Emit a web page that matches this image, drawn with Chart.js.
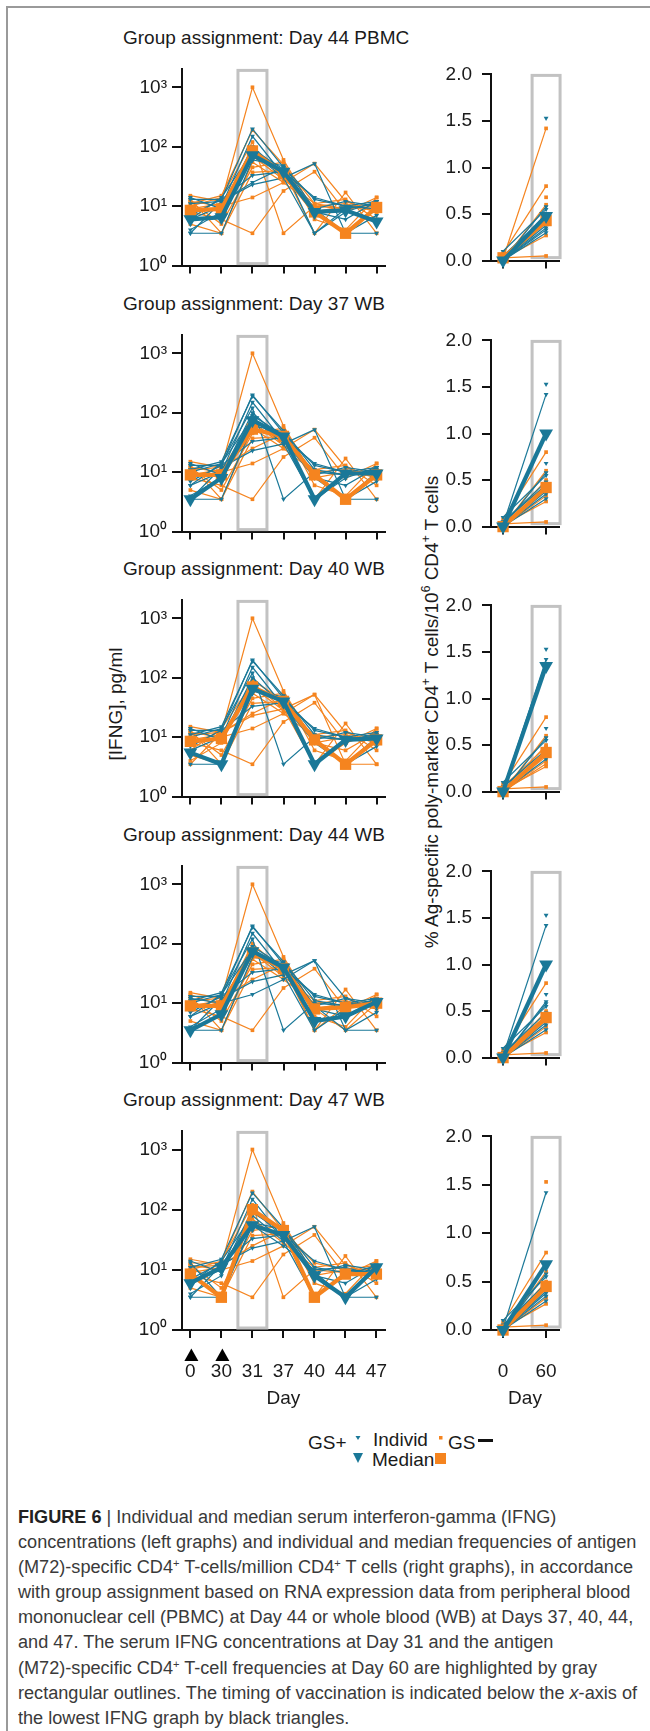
<!DOCTYPE html>
<html>
<head>
<meta charset="utf-8">
<script src="https://cdn.jsdelivr.net/npm/chart.js@4.4.1/dist/chart.umd.min.js"></script>
<style>
  body { margin: 0; width: 650px; height: 1731px; position: relative; overflow: hidden; background: #fff;
         font-family: "Liberation Sans", Arial, sans-serif; color: #1a1a1a; }
  canvas { position: absolute; }
  .txt { position: absolute; font-size: 19px; line-height: 22px; white-space: nowrap; }
  .rot { position: absolute; font-size: 19px; white-space: nowrap; transform: translate(-50%, -50%) rotate(-90deg); }
  .rot sup { font-size: 12px; }
  .frame { position: absolute; background: #9a9a9a; }
  #caption { position: absolute; left: 18px; top: 1505px; font-size: 18px; line-height: 25.1px; color: #3a3a3a; }
  #caption div { white-space: nowrap; transform-origin: 0 50%; }
  #caption sup { font-size: 11px; vertical-align: 6px; line-height: 0; }
  #caption b { color: #222; }
</style>
</head>
<body>
<div class="frame" style="left:6px;top:6px;width:644px;height:1.5px"></div>
<div class="frame" style="left:6px;top:6px;width:1.5px;height:1725px"></div>

<div class="rot" style="left:116px;top:704px">[IFNG], pg/ml</div>
<div class="rot" style="left:431px;top:712px">% Ag-specific poly-marker CD4<sup>+</sup> T cells/10<sup>6</sup> CD4<sup>+</sup> T cells</div>

<!-- legend -->
<div class="txt" style="left:308px;top:1432px">GS+</div>
<div class="txt" style="left:373px;top:1429px">Individ</div>
<div class="txt" style="left:372px;top:1449px">Median</div>
<div class="txt" style="left:448px;top:1432px">GS</div>
<div class="frame" style="left:478px;top:1439px;width:15px;height:3px;background:#111"></div>
<svg style="position:absolute;left:0;top:1420px" width="650" height="60">
  <polygon points="355.5,16 360.5,16 358,20" fill="#1a7898"/>
  <polygon points="353,33 363,33 358,43" fill="#1a7898"/>
  <rect x="439" y="16" width="3.5" height="3.5" fill="#f5841f"/>
  <rect x="435" y="33" width="11" height="11" fill="#f5841f"/>
</svg>

<div id="caption">
  <div><b>FIGURE 6</b> | Individual and median serum interferon-gamma (IFNG)</div>
  <div id="refLine">concentrations (left graphs) and individual and median frequencies of antigen</div>
  <div>(M72)-specific CD4<sup>+</sup> T-cells/million CD4<sup>+</sup> T cells (right graphs), in accordance</div>
  <div>with group assignment based on RNA expression data from peripheral blood</div>
  <div>mononuclear cell (PBMC) at Day 44 or whole blood (WB) at Days 37, 40, 44,</div>
  <div>and 47. The serum IFNG concentrations at Day 31 and the antigen</div>
  <div>(M72)-specific CD4<sup>+</sup> T-cell frequencies at Day 60 are highlighted by gray</div>
  <div>rectangular outlines. The timing of vaccination is indicated below the <i>x</i>-axis of</div>
  <div>the lowest IFNG graph by black triangles.</div>
</div>

<script>
// categories and tick labels
const days = ['0', '30', '31', '37', '40', '44', '47'];
const freqDays = ['0', '60'];
const vaccinationDays = ['0', '30'];
const highlightDay = '31';
const highlightFreqDay = '60';
const groupTitles = ['Day 44 PBMC', 'Day 37 WB', 'Day 40 WB', 'Day 44 WB', 'Day 47 WB'];
const logTicks = [1, 10, 100, 1000];
const logTickLabels = ['10⁰', '10¹', '10²', '10³'];
const freqTicks = [0, 0.5, 1, 1.5, 2];

// individual IFNG, pg/ml (days 0..47)
const ifngIndivid = [
  [15, 12, 1000, 60, 8, 10, 9],
  [13, 13, 200, 45, 13, 10, 12],
  [11, 15, 190, 50, 11, 9, 10],
  [8, 6, 3.5, 18, 38, 8, 14],
  [12, 10, 14, 25, 52, 12, 8],
  [3.5, 12, 23, 30, 52, 3.5, 3.5],
  [10, 14, 120, 3.5, 10, 9, 11],
  [5, 3.5, 37, 40, 3.5, 17, 3.5],
  [14, 9, 100, 35, 8, 3.5, 10],
  [6, 14, 80, 30, 3.5, 8, 12],
  [3.5, 3.5, 60, 48, 9, 12, 10],
  [9, 11, 70, 28, 11, 13, 6],
  [12, 5, 45, 55, 6, 4, 14],
  [7, 13, 33, 38, 14, 10, 9],
  [4, 8, 90, 42, 8, 6, 12],
  [13, 3.5, 55, 25, 10, 11, 8],
  [6, 10, 150, 33, 9, 3.5, 7],
  [11, 12, 25, 45, 3.5, 9, 11]
];
// individual % Ag-specific CD4+ (day 0, day 60)
const freqIndivid = [
  [0.08, 0.80], [null, 1.53], [0.02, 1.42], [0.03, 0.05], [0.0, 0.60], [0.0, 0.30],
  [null, 0.68], [0.0, 0.50], [0.05, 0.45], [0.0, 0.38], [0.1, 0.55], [0.0, 0.42],
  [0.02, 0.27], [0.0, 0.35], [0.05, 0.48], [0.0, 0.40], [0.0, 0.58], [0.0, 0.33]
];
// GS+ (+) / GS- (-) per individual, one string per group assignment
const gsGroups = [
  '-+---+--+++--++-++',
  '-++--++-+++--++-+-',
  '-++---+-+-+--+--+-',
  '-++-+++--++--++-+-',
  '--+--+--+++--++++-'
];
// medians
const ifngMedianPos = [
  [6, 6.5, 72, 38, 8, 8.5, 5.5],
  [3.5, 8, 75, 40, 3.5, 9.5, 9.5],
  [5.5, 3.5, 65, 40, 3.5, 9, 9.5],
  [3.5, 6.5, 75, 40, 5, 6, 10.5],
  [6, 11, 55, 38, 8, 3.5, 11]
];
const ifngMedianNeg = [
  [8.5, 9, 85, 35, 8, 3.5, 9.5],
  [9, 9, 53, 40, 9, 3.5, 9],
  [8.5, 9.5, 70, 40, 9, 3.5, 9],
  [9, 9, 70, 38, 8, 8.5, 10],
  [8.5, 3.5, 100, 45, 3.5, 8.5, 8.5]
];
const freqMedianPos = [[0, 0.48], [0, 1.0], [0, 1.35], [0, 1.0], [0, 0.68]];
const freqMedianNeg = [[0.03, 0.43], [0, 0.42], [0, 0.42], [0, 0.43], [0, 0.45]];

const BLUE = '#1a7898';
const ORANGE = '#f5841f';
const AX = '#111';
const TXT = '#1a1a1a';
const FONT = { family: '"Liberation Sans", Arial, sans-serif', size: 19 };

// gray outline round the highlighted day
const highlightBox = {
  id: 'highlightBox',
  beforeDatasetsDraw(chart, args, o) {
    const { ctx, chartArea, scales } = chart;
    const x0 = scales.x.getPixelForValue(o.center - o.half);
    const x1 = scales.x.getPixelForValue(o.center + o.half);
    ctx.save();
    ctx.strokeStyle = '#c2c2c2';
    ctx.lineWidth = 3;
    ctx.strokeRect(x0, chartArea.top + 1, x1 - x0, chartArea.bottom - chartArea.top - o.gap);
    ctx.restore();
  }
};

// black triangles = vaccination (only under the lowest IFNG graph)
const vaccMarks = {
  id: 'vaccMarks',
  afterDraw(chart, args, o) {
    if (!o.show) return;
    const ctx = chart.ctx, y = chart.chartArea.bottom + 25;
    ctx.save();
    ctx.fillStyle = '#000';
    vaccinationDays.forEach(d => {
      const px = chart.scales.x.getPixelForValue(days.indexOf(d)) + 1;
      ctx.beginPath();
      ctx.moveTo(px, y - 6.5);
      ctx.lineTo(px + 7, y + 6);
      ctx.lineTo(px - 7, y + 6);
      ctx.closePath();
      ctx.fill();
    });
    ctx.restore();
  }
};

function lineSet(values, pos, median) {
  const c = pos ? BLUE : ORANGE;
  return {
    data: values.map((v, i) => ({ x: i, y: v })),
    borderColor: c,
    backgroundColor: c,
    borderWidth: median ? 4.2 : 1.2,
    pointStyle: pos ? 'triangle' : 'rect',
    pointRotation: pos ? 180 : 0,
    pointRadius: median ? 8 : (pos ? 2.8 : 2.6),
    pointBorderWidth: 0,
    spanGaps: false,
    clip: false,
    order: median ? (pos ? 0 : 1) : (pos ? 2 : 3)
  };
}

function xScale(labels, min, max, last) {
  return {
    type: 'linear', min: min, max: max,
    afterBuildTicks: s => { s.ticks = labels.map((d, i) => ({ value: i })); },
    afterFit: s => { s.height = last ? 80 : 14; },
    ticks: { autoSkip: false, maxRotation: 0, padding: 22, color: TXT, font: FONT,
             callback: v => last ? labels[v] : '' },
    grid: { drawOnChartArea: false, tickLength: 8, color: AX, lineWidth: 2 },
    border: { color: AX, width: 2 },
    title: { display: last, text: 'Day', color: TXT, font: FONT, padding: 0 }
  };
}

function makeChart(left, top, w, h, datasets, scales, padRight, boxOpts, showVacc) {
  const cv = document.createElement('canvas');
  cv.width = w; cv.height = h;
  cv.style.left = left + 'px'; cv.style.top = top + 'px';
  cv.style.width = w + 'px'; cv.style.height = h + 'px';
  document.body.appendChild(cv);
  new Chart(cv.getContext('2d'), {
    type: 'line',
    data: { datasets: datasets },
    options: {
      responsive: false, animation: false, devicePixelRatio: 1, events: [],
      layout: { padding: { top: 12, right: padRight, left: 0, bottom: 0 } },
      plugins: { legend: { display: false }, tooltip: { enabled: false },
                 highlightBox: boxOpts, vaccMarks: { show: showVacc } },
      scales: scales
    },
    plugins: [highlightBox, vaccMarks]
  });
}

gsGroups.forEach((groups, r) => {
  const y0 = 268 + r * 265.5;   // pixel row of the x axes
  const last = r === gsGroups.length - 1;
  const hX = last ? 80 : 14;

  const title = document.createElement('div');
  title.className = 'txt';
  title.style.left = '123px';
  title.style.top = (y0 - 241) + 'px';
  title.textContent = 'Group assignment: ' + groupTitles[r];
  document.body.appendChild(title);

  // left: serum IFNG
  const leftSets = [];
  ifngIndivid.forEach((vals, i) => leftSets.push(lineSet(vals, groups[i] === '+', false)));
  leftSets.push(lineSet(ifngMedianNeg[r], false, true));
  leftSets.push(lineSet(ifngMedianPos[r], true, true));
  makeChart(100, y0 - 215, 310, 215 + hX, leftSets, {
    x: xScale(days, -0.27, 6.27, last),
    y: {
      type: 'logarithmic', min: 1, max: 2000,
      afterBuildTicks: s => { s.ticks = logTicks.map(v => ({ value: v })); },
      afterFit: s => { s.width = 82; },
      ticks: { padding: 5, color: TXT, font: FONT, callback: v => logTickLabels[logTicks.indexOf(v)] },
      grid: { drawOnChartArea: false, tickLength: 10, color: AX, lineWidth: 2 },
      border: { color: AX, width: 2 }
    }
  }, 25, { center: days.indexOf(highlightDay), half: 0.467, gap: 3 }, last);

  // right: Ag-specific CD4+ T cells
  const rightSets = [];
  freqIndivid.forEach((vals, i) => rightSets.push(lineSet(vals, groups[i] === '+', false)));
  rightSets.push(lineSet(freqMedianNeg[r], false, true));
  rightSets.push(lineSet(freqMedianPos[r], true, true));
  makeChart(440, y0 - 215, 160, 215 + hX, rightSets, {
    x: xScale(freqDays, -0.28, 1.30, last),
    y: {
      type: 'linear', min: 0, max: 2,
      afterBuildTicks: s => { s.ticks = freqTicks.map(v => ({ value: v })); },
      afterFit: s => { s.width = 51; },
      ticks: { padding: 10, color: TXT, font: FONT, callback: v => v.toFixed(1) },
      grid: { drawOnChartArea: false, tickLength: 9, color: AX, lineWidth: 2 },
      border: { color: AX, width: 2 }
    }
  }, 41, { center: freqDays.indexOf(highlightFreqDay), half: 0.325, gap: 4 }, false);
});

// squeeze the caption lines to the width of the printed ones
const ref = document.getElementById('refLine');
const k = 619 / ref.getBoundingClientRect().width;
document.querySelectorAll('#caption div').forEach(d => { d.style.transform = 'scaleX(' + k + ')'; });
</script>
</body>
</html>
